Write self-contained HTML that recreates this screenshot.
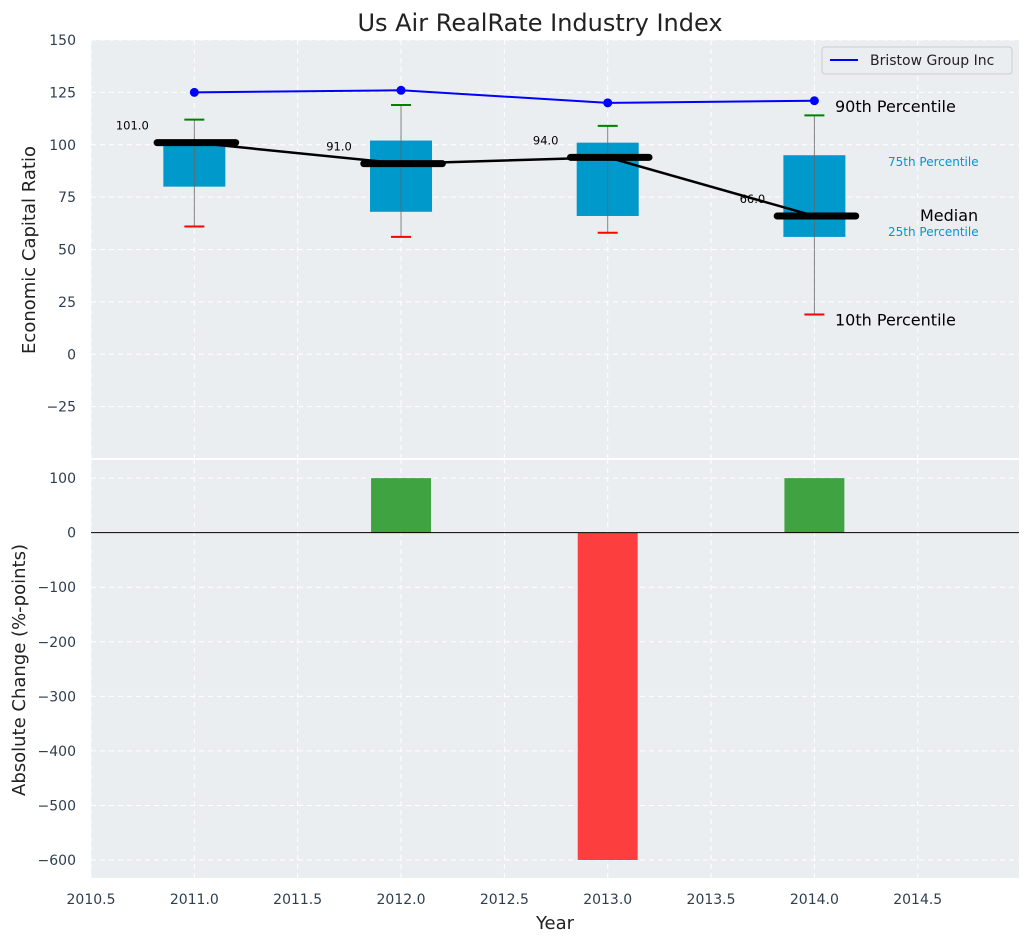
<!DOCTYPE html>
<html><head><meta charset="utf-8"><style>
body{margin:0;background:#fff;}
svg text{font-family:"DejaVu Sans","Liberation Sans",sans-serif;}
</style></head><body>
<svg id="c" width="1029" height="942" xmlns="http://www.w3.org/2000/svg"></svg>
<script>
const years=[2011,2012,2013,2014];
const p10=[61,56,58,19];
const p25=[80,68,66,56];
const p50=[101,91,94,66];
const p75=[101,102,101,95];
const p90=[112,119,109,114];
const company=[125,126,120,121];
const changes=[0,100,-600,100];
const xTicks=[2010.5,2011,2011.5,2012,2012.5,2013,2013.5,2014,2014.5];
const yTopTicks=[-25,0,25,50,75,100,125,150];
const yBotTicks=[-600,-500,-400,-300,-200,-100,0,100];

const NS="http://www.w3.org/2000/svg",svg=document.getElementById('c');
const L=91,R=1019;
const X=v=>L+(v-2010.5)*(R-L)/(2014.99-2010.5);
const T0=40,T1=459,B0=459,B1=878;
const Yt=v=>T1-(v+50)*(T1-T0)/200;
const Yb=v=>B1-(v+633)*(B1-B0)/(135+633);
function el(t,a,txt){const e=document.createElementNS(NS,t);for(const k in a)e.setAttribute(k,a[k]);if(txt!==undefined)e.textContent=txt;svg.appendChild(e);return e;}
let e;
e=el('rect',{x:L,y:T0,width:R-L,height:T1-T0,fill:'#eaeef0'});

e=el('rect',{x:L,y:B0+1,width:R-L,height:B1-B0-1,fill:'#eaeef0'});

el('line',{x1:L,x2:R,y1:459,y2:459,stroke:'#fff','stroke-width':2});
// grids
xTicks.forEach(t=>{[[T0,T1],[B0,B1]].forEach(r=>el('line',{x1:X(t),x2:X(t),y1:r[0],y2:r[1],stroke:'#fff','stroke-dasharray':'5,4','stroke-width':1}));
 e=el('text',{x:X(t),y:904,'text-anchor':'middle','font-size':14,fill:'#2d3e50'},t.toFixed(1));
 });
yTopTicks.forEach(t=>{el('line',{x1:L,x2:R,y1:Yt(t),y2:Yt(t),stroke:'#fff','stroke-dasharray':'5,4'});
 e=el('text',{x:76,y:Yt(t)+5,'text-anchor':'end','font-size':14,fill:'#2d3e50'},t<0?'\u2212'+(-t):t);
 });
yBotTicks.forEach(t=>{el('line',{x1:L,x2:R,y1:Yb(t),y2:Yb(t),stroke:'#fff','stroke-dasharray':'5,4'});
 e=el('text',{x:76,y:Yb(t)+5,'text-anchor':'end','font-size':14,fill:'#2d3e50'},t<0?'\u2212'+(-t):t);
 });
// boxes
years.forEach((y,i)=>{
 e=el('rect',{x:X(y-0.15),y:Yt(p75[i]),width:X(y+0.15)-X(y-0.15),height:Yt(p25[i])-Yt(p75[i]),fill:'#0099cc'});
 
 e=el('line',{x1:X(y),x2:X(y),y1:Yt(p90[i]),y2:Yt(p10[i]),stroke:'#666','stroke-width':1,opacity:0.8});
 
 e=el('line',{x1:X(y)-10,x2:X(y)+10,y1:Yt(p90[i]),y2:Yt(p90[i]),stroke:'green','stroke-width':2});
 
 e=el('line',{x1:X(y)-10,x2:X(y)+10,y1:Yt(p10[i]),y2:Yt(p10[i]),stroke:'red','stroke-width':2});
 
});
e=el('polyline',{points:years.map((y,i)=>X(y)+','+Yt(p50[i])).join(' '),fill:'none',stroke:'#000','stroke-width':2.5});

years.forEach((y,i)=>{
 e=el('line',{x1:X(y-0.18),x2:X(y+0.2),y1:Yt(p50[i]),y2:Yt(p50[i]),stroke:'#000','stroke-width':7,'stroke-linecap':'round'});
 
 e=el('text',{x:X(y-0.3),y:Yt(p50[i])-13,'text-anchor':'middle','font-size':11.5,fill:'#000'},p50[i].toFixed(1));
 
});
e=el('polyline',{points:years.map((y,i)=>X(y)+','+Yt(company[i])).join(' '),fill:'none',stroke:'#0000ff','stroke-width':2});

years.forEach((y,i)=>{e=el('circle',{cx:X(y),cy:Yt(company[i]),r:4.5,fill:'#0000ff'});
 });
// annotations
const li=3;
[['90th Percentile',835,Yt(company[li])+11,16,'#000','start'],['10th Percentile',835,Yt(p10[li])+11,16,'#000','start'],
 ['Median',920,Yt(p50[li])+5,16,'#000','start'],['75th Percentile',888,Yt(p75[li])+11,12,'#0099cc','start'],['25th Percentile',888,Yt(p25[li])-1,12,'#0099cc','start']].forEach(a=>{
 e=el('text',{x:a[1],y:a[2],'font-size':a[3],fill:a[4]},a[0]);});
// legend
e=el('rect',{x:822,y:47,width:190,height:27,fill:'#eaeef0',stroke:'#ccc',rx:3});

el('line',{x1:830,x2:858,y1:60,y2:60,stroke:'#0000ff','stroke-width':2});
e=el('text',{x:870,y:65,'font-size':14,fill:'#222'},'Bristow Group Inc');

// bottom bars
years.forEach((y,i)=>{if(!changes[i])return;const v=changes[i];
 e=el('rect',{x:X(y-0.145),y:Math.min(Yb(0),Yb(v)),width:X(y+0.145)-X(y-0.145),height:Math.abs(Yb(v)-Yb(0)),fill:v>0?'#2e9a2e':'#ff2a2a',opacity:0.9});
 });
el('line',{x1:L,x2:R,y1:Yb(0),y2:Yb(0),stroke:'#000','stroke-width':1});
// titles
e=el('text',{x:540,y:31,'text-anchor':'middle','font-size':24,fill:'#222'},'Us Air RealRate Industry Index');

e=el('text',{x:555,y:929,'text-anchor':'middle','font-size':18,fill:'#222'},'Year');

e=el('text',{x:35,y:250,'text-anchor':'middle','font-size':18,fill:'#222',transform:'rotate(-90 35 250)'},'Economic Capital Ratio');

e=el('text',{x:25,y:670,'text-anchor':'middle','font-size':18,fill:'#222',transform:'rotate(-90 25 670)'},'Absolute Change (%-points)');

</script>
</body></html>
